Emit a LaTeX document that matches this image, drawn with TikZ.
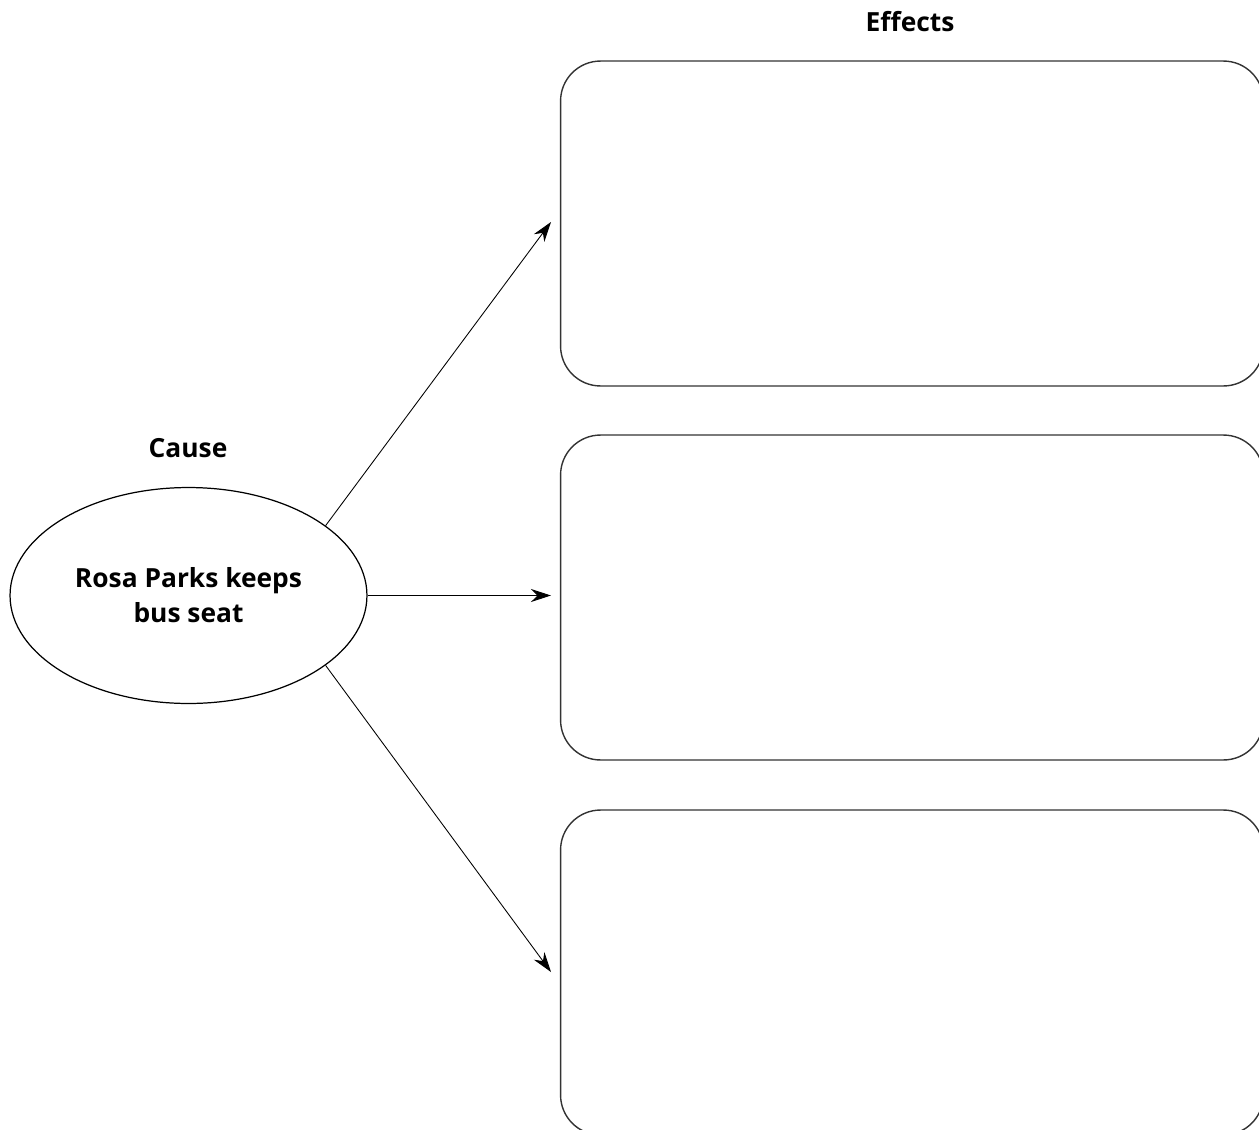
\documentclass[tikz,border=0pt]{standalone}
\usepackage{fontspec}
\setmainfont{Open Sans}
\usetikzlibrary{arrows.meta,shapes.geometric}
\tikzset{
  causebox/.style={draw, ellipse, line width=0.7pt, inner sep=0pt,
    minimum width=7.14cm, minimum height=4.32cm, align=center,
    font=\bfseries\fontsize{15}{20}\selectfont},
  effectbox/.style={draw=black!80, line width=0.8pt, rounded corners=0.8cm,
    minimum width=14.06cm, minimum height=6.5cm},
  heading/.style={font=\bfseries\fontsize{15}{18}\selectfont},
  link/.style={line width=0.5pt, -{Stealth[length=0.4cm, width=0.26cm]}}
}

\begin{document}
\begin{tikzpicture}[x=0.02cm, y=-0.02cm]
		%%%%% START %%%%%
		\useasboundingbox (0, 0) rectangle (1259, 1130);
		\clip (0, 0) rectangle (1259, 1130);
		
		\node[heading] (effects) at (910, 22) {Effects};
		\node[heading] (causehead) at (188, 448) {Cause};
		
		\node[causebox] (cause) at (188.5, 595.5) {Rosa Parks keeps\\bus seat};
		
		\node[effectbox] (effA) at (912, 223.5) {};
		\node[effectbox] (effB) at (912, 597.5) {};
		\node[effectbox] (effC) at (912, 972.5) {};
		
		\coordinate (tipA) at (551, 222);
		\coordinate (tipB) at (551, 595.5);
		\coordinate (tipC) at (551, 972);
		
		\draw[link] (cause.27) -- (tipA);
		\draw[link] (cause.east) -- (tipB);
		\draw[link] (cause.-27) -- (tipC);
		
		%%%%% END %%%%%
	\end{tikzpicture}
\end{document}
